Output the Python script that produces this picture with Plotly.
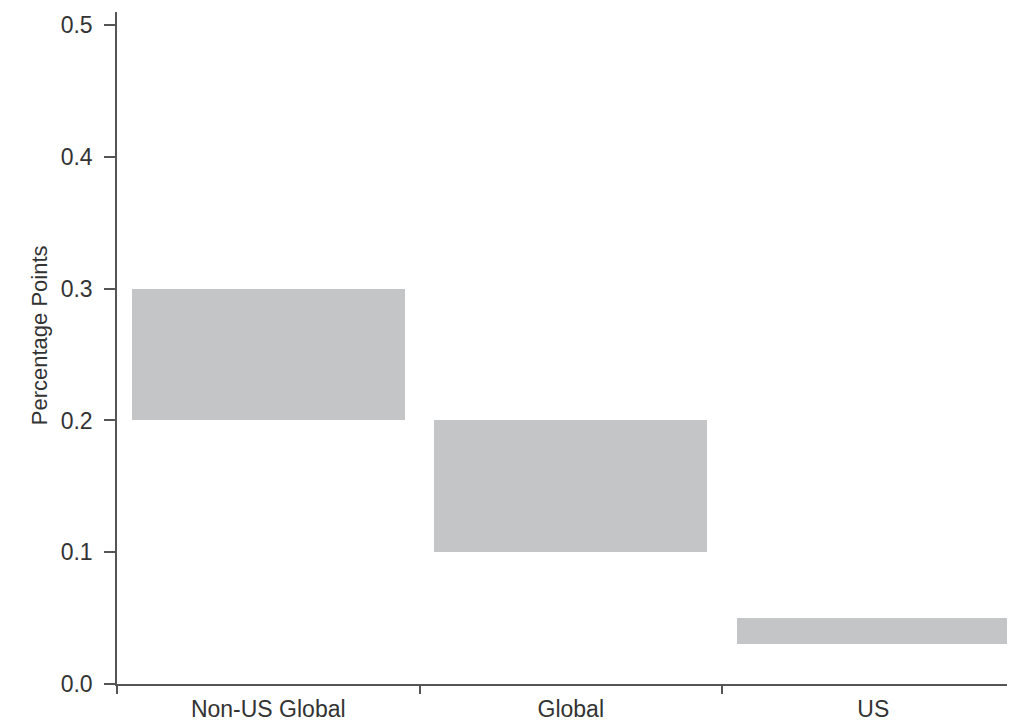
import plotly.graph_objects as go

categories = ["Non-US Global", "Global", "US"]
low_values = [0.20, 0.10, 0.03]
high_values = [0.30, 0.20, 0.05]
y_ticks = [0.0, 0.1, 0.2, 0.3, 0.4, 0.5]
y_title = "Percentage Points"

heights = [h - l for h, l in zip(high_values, low_values)]

fig = go.Figure(go.Bar(
    x=categories, y=heights, base=low_values,
    marker=dict(color="#c4c5c7", line=dict(width=0)),
    width=0.904, showlegend=False, hoverinfo="skip",
))

font = dict(family="Liberation Sans, Arial, sans-serif", size=23, color="#333333")
title_font = dict(family="Liberation Sans, Arial, sans-serif", size=22, color="#333333")

fig.update_layout(
    width=1015, height=721,
    margin=dict(l=109, r=0, t=4, b=45, autoexpand=False),
    plot_bgcolor="white", paper_bgcolor="white",
    font=font,
    bargap=0,
)
fig.update_xaxes(
    type="category", range=[-0.5, 2.495],
    showline=True, linecolor="#555555", linewidth=1.5,
    ticks="outside", tickson="boundaries", ticklen=8, tickwidth=1.5, tickcolor="#555555",
    showgrid=False, zeroline=False, tickfont=font, automargin=False,
    ticklabelstandoff=4,
)
fig.update_yaxes(
    range=[0, 0.51], tickvals=y_ticks, tickformat=".1f",
    showline=True, linecolor="#555555", linewidth=1.5,
    ticks="outside", ticklen=11, tickwidth=1.5, tickcolor="#555555",
    showgrid=False, zeroline=False, tickfont=font, automargin=False,
    ticklabelstandoff=7,
)
fig.add_annotation(
    text=y_title, textangle=-90, font=title_font, showarrow=False,
    xref="paper", yref="paper", x=0, y=0.519,
    xanchor="center", yanchor="middle", xshift=-78,
)

fig.write_html("out.html", default_width="1015px", default_height="721px")
